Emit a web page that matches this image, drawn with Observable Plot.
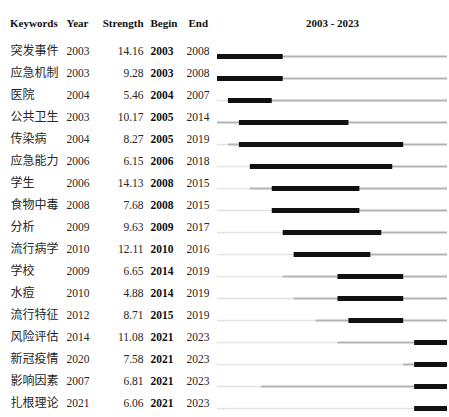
<!DOCTYPE html>
<html>
<head>
<meta charset="utf-8">
<script src="https://cdn.jsdelivr.net/npm/d3@7"></script>
<script src="https://cdn.jsdelivr.net/npm/@observablehq/plot@0.6"></script>
<style>
  html, body { margin: 0; padding: 0; background: #fff; }
  #chart svg { display: block; background: #fff; }
</style>
</head>
<body>
<div id="chart"></div>
<script>
const keywords = ["突发事件","应急机制","医院","公共卫生","传染病","应急能力","学生","食物中毒","分析","流行病学","学校","水痘","流行特征","风险评估","新冠疫情","影响因素","扎根理论"];
const years = [2003,2003,2004,2003,2004,2006,2006,2008,2009,2010,2009,2010,2012,2014,2020,2007,2021];
const strengths = [14.16,9.28,5.46,10.17,8.27,6.15,14.13,7.68,9.63,12.11,6.65,4.88,8.71,11.08,7.58,6.81,6.06];
const begins = [2003,2003,2004,2005,2005,2006,2008,2008,2009,2010,2014,2014,2015,2021,2021,2021,2021];
const ends = [2008,2008,2007,2014,2019,2018,2015,2015,2017,2016,2019,2019,2019,2023,2023,2023,2023];
const headers = ["Keywords","Year","Strength","Begin","End"];
const rangeStart = 2003, rangeEnd = 2023;
const rangeLabel = `${rangeStart} - ${rangeEnd}`;

const rows = keywords.map((k, i) => ({k, year: years[i], s: strengths[i], b: begins[i], e: ends[i]}));

const serif = "'Liberation Serif', 'Times New Roman', 'Noto Sans CJK SC', serif";
const cjk = "'Noto Sans CJK SC', sans-serif";
const txt = "#262626";

const common = {y: "k", frameAnchor: "left", lineAnchor: "middle", dy: -5, fontSize: 11.5, fill: txt, fontFamily: serif};
const head = {frameAnchor: "top-left", lineAnchor: "middle", dy: -27, fontSize: 11, fontWeight: "bold", fill: "#111", fontFamily: serif};

const chart = Plot.plot({
  width: 449,
  height: 417,
  marginLeft: 217,
  marginRight: 2,
  marginTop: 50,
  marginBottom: 3,
  style: {background: "#fff", overflow: "visible"},
  x: {domain: [rangeStart, rangeEnd + 1], axis: null},
  y: {type: "point", domain: keywords, padding: 0, axis: null},
  marks: [
    Plot.ruleY(rows, {y: "k", x1: rangeStart, x2: "year", stroke: "#e2e2e2", strokeWidth: 1.5}),
    Plot.ruleY(rows, {y: "k", x1: "year", x2: rangeEnd + 1, stroke: "#b3b3b3", strokeWidth: 2}),
    Plot.ruleY(rows, {y: "k", x1: "b", x2: d => d.e + 1, stroke: "#111", strokeWidth: 5}),
    Plot.text(rows, {...common, text: "k", dx: -207, textAnchor: "start", fontFamily: cjk, fontSize: 12}),
    Plot.text(rows, {...common, text: d => String(d.year), dx: -151, textAnchor: "start"}),
    Plot.text(rows, {...common, text: d => d.s.toFixed(2), dx: -74, textAnchor: "end"}),
    Plot.text(rows, {...common, text: d => String(d.b), dx: -67, textAnchor: "start", fontWeight: "bold", fill: "#111"}),
    Plot.text(rows, {...common, text: d => String(d.e), dx: -8, textAnchor: "end"}),
    Plot.text([headers[0]], {...head, text: d => d, dx: -207.5, textAnchor: "start"}),
    Plot.text([headers[1]], {...head, text: d => d, dx: -151, textAnchor: "start"}),
    Plot.text([headers[2]], {...head, text: d => d, dx: -74, textAnchor: "end"}),
    Plot.text([headers[3]], {...head, text: d => d, dx: -67, textAnchor: "start"}),
    Plot.text([headers[4]], {...head, text: d => d, dx: -29, textAnchor: "start"}),
    Plot.text([rangeLabel], {frameAnchor: "top", lineAnchor: "middle", dy: -27, fontSize: 11, fontWeight: "bold", fill: "#111", fontFamily: serif, text: d => d})
  ]
});
document.getElementById("chart").appendChild(chart);
</script>
</body>
</html>
